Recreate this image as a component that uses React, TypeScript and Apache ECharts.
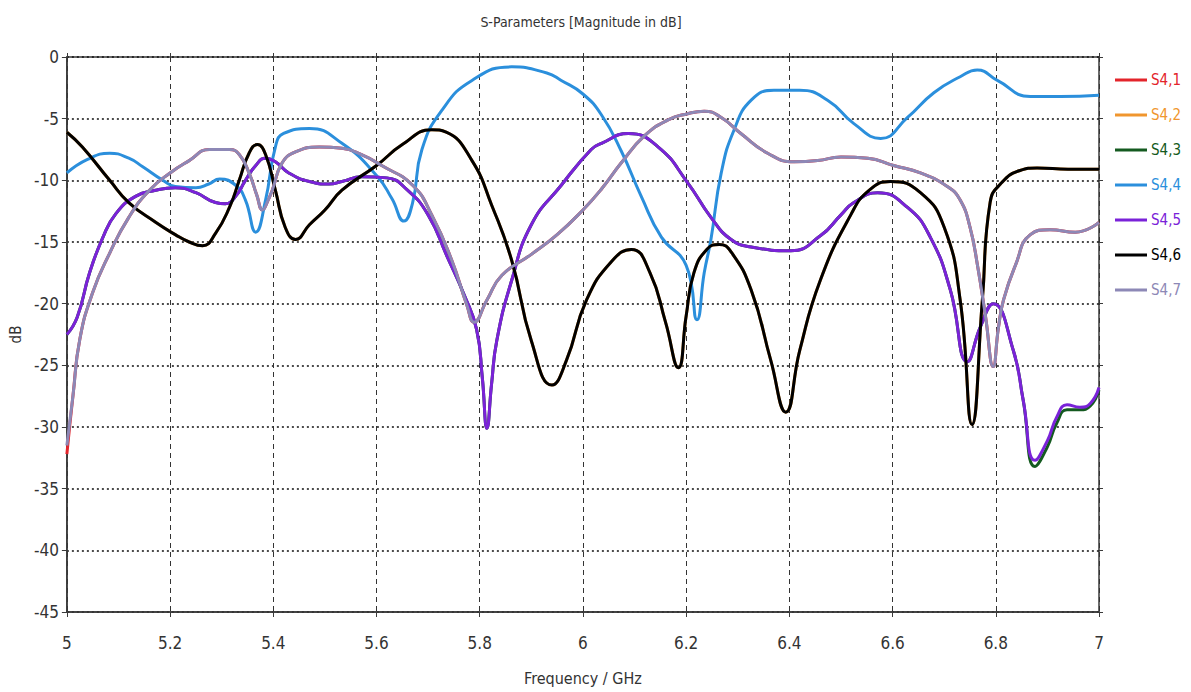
import React, { useEffect, useRef } from "react";
import * as echarts from "echarts";

const FONT = "'Liberation Sans Narrow', 'DejaVu Sans Condensed', 'Arial Narrow', sans-serif";

const titleText = "S-Parameters [Magnitude in dB]";
const xName = "Frequency / GHz";
const yName = "dB";

const seriesNames = ["S4,1", "S4,2", "S4,3", "S4,4", "S4,5", "S4,6", "S4,7"];
const seriesColors = ["#e3242b", "#f0962e", "#145a20", "#2b8fdc", "#7a22d8", "#000000", "#8d88b6"];

// S4,7
const s47: number[][] = [
  [5.0, -31.5], [5.012, -27.4], [5.025, -22.9], [5.05, -19.1], [5.083, -15.9], [5.12, -13.0],
  [5.16, -10.8], [5.2, -9.4], [5.237, -8.4], [5.276, -7.5], [5.315, -7.5], [5.334, -7.9],
  [5.353, -9.4], [5.368, -11.2], [5.379, -12.4], [5.39, -11.6], [5.398, -10.8], [5.417, -8.6],
  [5.443, -7.7], [5.489, -7.3], [5.533, -7.4], [5.57, -7.9], [5.61, -8.8], [5.67, -10.4],
  [5.707, -12.8], [5.746, -16.5], [5.775, -20.1], [5.789, -21.5], [5.814, -19.7], [5.843, -17.7],
  [5.9, -16.0], [5.95, -14.4], [6.0, -12.4], [6.036, -10.7], [6.074, -8.6], [6.119, -6.4],
  [6.165, -5.1], [6.203, -4.6], [6.235, -4.4], [6.268, -4.9], [6.306, -6.2], [6.358, -7.8],
  [6.409, -8.5], [6.455, -8.4], [6.5, -8.1], [6.552, -8.2], [6.602, -8.8], [6.654, -9.4],
  [6.706, -10.5], [6.731, -11.6], [6.75, -13.8], [6.765, -17.0], [6.78, -21.0], [6.795, -25.1],
  [6.805, -22.0], [6.815, -19.7], [6.838, -16.9], [6.867, -14.4], [6.905, -14.0], [6.954, -14.2],
  [7.0, -13.4],
];

// S4,6
const s46: number[][] = [
  [5.0, -6.1], [5.03, -7.3], [5.083, -10.0], [5.12, -11.8], [5.172, -13.4], [5.21, -14.4],
  [5.237, -15.0], [5.263, -15.3], [5.288, -14.3], [5.315, -12.2], [5.334, -10.0], [5.353, -7.8],
  [5.369, -7.1], [5.385, -7.9], [5.404, -10.8], [5.423, -13.8], [5.443, -14.8], [5.47, -13.6],
  [5.5, -12.4], [5.533, -10.8], [5.6, -8.8], [5.65, -7.1], [5.707, -5.9], [5.735, -6.1],
  [5.785, -8.4], [5.823, -12.0], [5.862, -16.5], [5.9, -23.0], [5.94, -26.6], [5.968, -24.6],
  [6.007, -19.7], [6.055, -16.6], [6.094, -15.6], [6.13, -17.5], [6.16, -21.5], [6.185, -25.2],
  [6.2, -21.0], [6.215, -17.5], [6.24, -15.6], [6.264, -15.2], [6.287, -15.8], [6.326, -18.9],
  [6.364, -24.6], [6.393, -28.8], [6.42, -23.8], [6.46, -18.1], [6.519, -12.8], [6.555, -10.8],
  [6.596, -10.1], [6.654, -11.0], [6.7, -13.8], [6.731, -19.7], [6.754, -29.8], [6.774, -19.7],
  [6.789, -11.8], [6.809, -10.3], [6.847, -9.2], [6.88, -9.0], [6.94, -9.1], [7.0, -9.1],
];

// S4,5
const s45: number[][] = [
  [5.0, -22.5], [5.02, -21.1], [5.044, -17.5], [5.07, -14.6], [5.095, -12.7], [5.133, -11.3],
  [5.172, -10.8], [5.21, -10.6], [5.25, -11.0], [5.288, -11.8], [5.307, -11.9], [5.327, -11.3],
  [5.346, -10.0], [5.366, -8.8], [5.385, -8.2], [5.404, -8.5], [5.43, -9.4], [5.47, -10.1],
  [5.508, -10.3], [5.533, -10.1], [5.572, -9.7], [5.62, -9.8], [5.66, -10.8], [5.7, -12.8],
  [5.736, -16.1], [5.77, -19.3], [5.794, -22.1], [5.805, -26.0], [5.814, -30.1], [5.823, -26.5],
  [5.833, -23.0], [5.862, -18.1], [5.9, -13.6], [5.958, -10.4], [6.016, -7.5], [6.036, -7.0],
  [6.088, -6.2], [6.146, -7.3], [6.203, -10.2], [6.248, -13.0], [6.287, -14.8], [6.326, -15.4],
  [6.403, -15.7], [6.46, -14.5], [6.5, -12.8], [6.525, -11.8], [6.571, -11.0], [6.629, -12.2],
  [6.673, -14.6], [6.712, -18.9], [6.745, -24.7], [6.77, -21.9], [6.795, -20.0], [6.834, -23.8],
  [6.853, -27.8], [6.876, -32.7], [6.9, -31.1], [6.918, -29.2], [6.938, -28.2], [6.963, -28.4],
  [6.983, -28.1], [7.0, -26.8],
];

// S4,4
const s44: number[][] = [
  [5.0, -9.4], [5.04, -8.3], [5.083, -7.8], [5.12, -8.2], [5.147, -8.9], [5.186, -10.0],
  [5.21, -10.5], [5.25, -10.6], [5.275, -10.3], [5.296, -9.9], [5.327, -10.4], [5.346, -11.6],
  [5.366, -14.2], [5.385, -11.6], [5.404, -7.3], [5.42, -6.2], [5.47, -5.8], [5.533, -7.0],
  [5.6, -9.6], [5.63, -11.5], [5.653, -13.3], [5.67, -11.8], [5.688, -7.5], [5.727, -4.3],
  [5.785, -1.9], [5.862, -0.8], [5.93, -1.3], [5.958, -1.9], [6.0, -3.0], [6.036, -4.7],
  [6.074, -7.6], [6.113, -11.3], [6.152, -14.6], [6.2, -16.9], [6.221, -21.3], [6.235, -17.5],
  [6.248, -14.8], [6.268, -9.4], [6.293, -5.9], [6.326, -3.5], [6.37, -2.7], [6.42, -2.7],
  [6.474, -3.5], [6.525, -5.4], [6.577, -6.6], [6.629, -4.9], [6.68, -2.9], [6.731, -1.6],
  [6.764, -1.05], [6.803, -1.9], [6.867, -3.2], [6.925, -3.2], [7.0, -3.1],
];

// S4,3 (mostly under S4,5)
const s43: number[][] = [
  ...s45.slice(0, 55),
  [6.876, -33.2], [6.9, -31.6], [6.918, -29.7], [6.938, -28.6], [6.963, -28.6], [6.983, -28.3], [7.0, -27.0],
];

// S4,2 (under S4,6)
const s42: number[][] = [...s46];

// S4,1 (under S4,7)
const s41: number[][] = [[5.0, -32.2], ...s47.slice(1)];

const seriesData = [s41, s42, s43, s44, s45, s46, s47];

const xTicks = { min: 5, max: 7, interval: 0.2 };
const yTicks = { min: -45, max: 0, interval: 5 };

export default function App() {
  const ref = useRef<HTMLDivElement>(null);
  useEffect(() => {
    const chart = echarts.init(ref.current!, null, { renderer: "svg" });
    const legendTop = 80;
    const legendStep = 35;
    const legendGraphics: any[] = [];
    seriesNames.forEach((n, i) => {
      const y = legendTop + i * legendStep;
      legendGraphics.push({
        type: "line",
        shape: { x1: 1115, y1: y, x2: 1147, y2: y },
        style: { stroke: seriesColors[i], lineWidth: 3 },
      });
      legendGraphics.push({
        type: "text",
        x: 1151,
        y: y,
        style: {
          text: n,
          fill: seriesColors[i],
          font: `15px ${FONT}`,
          textVerticalAlign: "middle",
          textAlign: "left",
        },
      });
    });
    const option: any = {
      animation: false,
      backgroundColor: "#ffffff",
      grid: {
        left: 64,
        right: 92,
        top: 57,
        bottom: 80,
        show: true,
        borderColor: "#3a3a3a",
        borderWidth: 1.5,
        backgroundColor: "transparent",
      },
      graphic: [
        {
          type: "text",
          x: 581,
          y: 22,
          style: {
            text: titleText,
            fill: "#333",
            font: `14px ${FONT}`,
            textAlign: "center",
            textVerticalAlign: "middle",
          },
        },
        ...legendGraphics,
      ],
      xAxis: [
        {
          type: "value",
          min: xTicks.min,
          max: xTicks.max,
          interval: xTicks.interval,
          name: xName,
          nameLocation: "middle",
          nameGap: 58,
          nameTextStyle: { color: "#333", fontSize: 16, fontFamily: FONT },
          axisLine: { show: true, onZero: false, lineStyle: { color: "#3a3a3a", width: 1.5 } },
          axisTick: { show: true, length: 5, lineStyle: { color: "#3a3a3a" } },
          axisLabel: {
            color: "#333",
            fontSize: 17,
            fontFamily: FONT,
            margin: 22,
            formatter: (v: number) => String(parseFloat(v.toFixed(1))),
          },
          splitLine: { show: true, lineStyle: { color: "#333", type: [5, 4], width: 1 } },
        },
        {
          type: "value",
          position: "top",
          min: xTicks.min,
          max: xTicks.max,
          interval: xTicks.interval,
          axisLine: { show: false },
          axisTick: { show: true, length: 4, lineStyle: { color: "#3a3a3a" } },
          axisLabel: { show: false },
          splitLine: { show: false },
        },
      ],
      yAxis: [
        {
          type: "value",
          min: yTicks.min,
          max: yTicks.max,
          interval: yTicks.interval,
          name: yName,
          nameLocation: "middle",
          nameGap: 40,
          nameRotate: 90,
          nameTextStyle: { color: "#333", fontSize: 15, fontFamily: FONT },
          axisLine: { show: true, onZero: false, lineStyle: { color: "#3a3a3a", width: 1.5 } },
          axisTick: { show: true, length: 5, lineStyle: { color: "#3a3a3a" } },
          axisLabel: { color: "#333", fontSize: 17, fontFamily: FONT, margin: 8 },
          splitLine: { show: true, lineStyle: { color: "#111", type: [2, 3], width: 1.5 } },
        },
        {
          type: "value",
          position: "right",
          min: yTicks.min,
          max: yTicks.max,
          interval: yTicks.interval,
          axisLine: { show: false },
          axisTick: { show: true, length: 4, lineStyle: { color: "#3a3a3a" } },
          axisLabel: { show: false },
          splitLine: { show: false },
        },
      ],
      series: seriesNames.map((n, i) => ({
        name: n,
        type: "line",
        xAxisIndex: 0,
        yAxisIndex: 0,
        data: seriesData[i],
        showSymbol: false,
        symbol: "none",
        smooth: 0.5,
        lineStyle: { color: seriesColors[i], width: 3 },
        itemStyle: { color: seriesColors[i] },
        z: 2 + i,
      })),
    };
    chart.setOption(option);
    return () => chart.dispose();
  }, []);
  return <div ref={ref} style={{ position: "fixed", left: 0, top: 0, width: 1191, height: 692 }} />;
}
